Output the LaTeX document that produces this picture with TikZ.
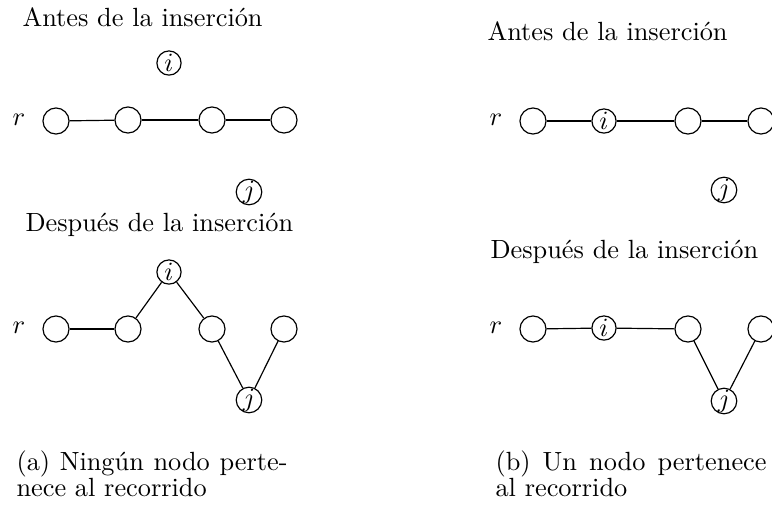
\documentclass[tikz,border=0pt]{standalone}
\usepackage{fontspec}
\begin{document}
\begin{tikzpicture}[x=0.38pt,y=-0.38pt,
  emptynode/.style={circle,draw,line width=0.45pt,minimum size=9.9pt,inner sep=0pt},
  labnode/.style={circle,draw,line width=0.45pt,minimum size=9.2pt,inner sep=0pt},
  conn/.style={draw,line width=0.45pt},
  txt/.style={anchor=base west,inner sep=0pt,font=\fontsize{10pt}{12pt}\selectfont}]
\useasboundingbox (0,0) rectangle (772,512);
% ---------- left panel ----------
\node[txt] (ha1) at (22,26) {Antes de la inserción};
\node[labnode] (ai1) at (169,63) {$i$};
\node[txt] (ar1) at (12,125) {$r$};
\node[emptynode] (a11) at (56,121) {};
\node[emptynode] (a12) at (128,120) {};
\node[emptynode] (a13) at (212,120) {};
\node[emptynode] (a14) at (284,120) {};
\node[labnode] (aj1) at (249,192) {$j$};
\draw[conn] (a11) -- (a12);
\draw[conn] (a12) -- (a13);
\draw[conn] (a13) -- (a14);
\node[txt] (ha2) at (25,231) {Después de la inserción};
\node[labnode] (ai2) at (169,272) {$i$};
\node[txt] (ar2) at (12,333) {$r$};
\node[emptynode] (a21) at (56,329) {};
\node[emptynode] (a22) at (128,329) {};
\node[emptynode] (a23) at (212,329) {};
\node[emptynode] (a24) at (284,329) {};
\node[labnode] (aj2) at (249,400) {$j$};
\draw[conn] (a21) -- (a22);
\draw[conn] (a22) -- (ai2);
\draw[conn] (ai2) -- (a23);
\draw[conn] (a23) -- (aj2);
\draw[conn] (aj2) -- (a24);
\node[txt] (capa1) at (16,470) {\makebox[103pt][s]{(a) Ningún nodo perte-}};
\node[txt] (capa2) at (16,496) {nece al recorrido};
% ---------- right panel ----------
\node[txt] (hb1) at (487,40) {Antes de la inserción};
\node[txt] (br1) at (489,125) {$r$};
\node[emptynode] (b11) at (533,121) {};
\node[labnode] (bi1) at (604,121) {$i$};
\node[emptynode] (b13) at (688,121) {};
\node[emptynode] (b14) at (761,121) {};
\node[labnode] (bj1) at (724,190) {$j$};
\draw[conn] (b11) -- (bi1);
\draw[conn] (bi1) -- (b13);
\draw[conn] (b13) -- (b14);
\node[txt] (hb2) at (490,258) {Después de la inserción};
\node[txt] (br2) at (489,333) {$r$};
\node[emptynode] (b21) at (533,329) {};
\node[labnode] (bi2) at (604,328) {$i$};
\node[emptynode] (b23) at (688,329) {};
\node[emptynode] (b24) at (761,329) {};
\node[labnode] (bj2) at (724,401) {$j$};
\draw[conn] (b21) -- (bi2);
\draw[conn] (bi2) -- (b23);
\draw[conn] (b23) -- (bj2);
\draw[conn] (bj2) -- (b24);
\node[txt] (capb1) at (495,470) {\makebox[103pt][s]{(b) Un nodo pertenece}};
\node[txt] (capb2) at (495,496) {al recorrido};
\end{tikzpicture}
\end{document}
